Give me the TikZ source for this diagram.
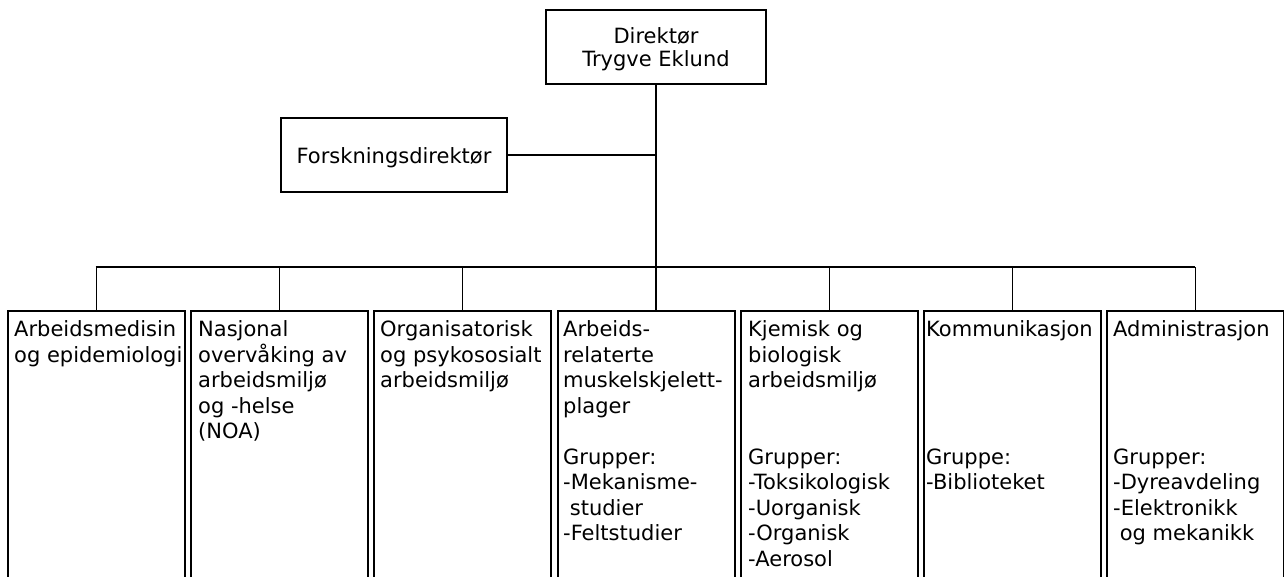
\documentclass[tikz,border=0pt]{standalone}
\usepackage{fontspec}
\setmainfont{DejaVu Sans}
\begin{document}
\begin{tikzpicture}[x=1pt,y=-1pt,
  unit/.style={draw,line width=1.6pt,inner sep=0pt,minimum width=177pt,minimum height=290pt,anchor=north west},
  unittext/.style={anchor=north west,align=left,inner sep=0pt,font=\fontsize{21}{25.5}\selectfont,execute at begin node=\strut},
  headbox/.style={draw,line width=1.6pt,inner sep=0pt},
  headtext/.style={align=center,inner sep=0pt,font=\fontsize{21}{23.5}\selectfont},
  conn/.style={line width=1.3pt}]
\useasboundingbox (0,0) rectangle (1284,576);
\clip (-2,-2) rectangle (1286,578);
% head boxes
\node[headbox,minimum width=220pt,minimum height=74pt] (dir) at (656,47) {};
\node[headtext,anchor=north,execute at begin node=\strut] (dirtext) at (656,27.2) {Direktør\\Trygve Eklund};
\node[headbox,minimum width=226pt,minimum height=74pt] (fd) at (394,155) {};
\node[headtext,anchor=base] (fdtext) at (394,163.5) {Forskningsdirektør};
% unit boxes
\node[unit] (b1) at (7,310) {};
\node[unit] (b2) at (190,310) {};
\node[unit] (b3) at (373,310) {};
\node[unit] (b4) at (557,310) {};
\node[unit] (b5) at (740,310) {};
\node[unit] (b6) at (923,310) {};
\node[unit] (b7) at (1106,310) {};
\node[unittext] (t1) at (14,320.7) {Arbeidsmedisin\\og epidemiologi};
\node[unittext] (t2) at (198,320.7) {Nasjonal\\overvåking av\\arbeidsmiljø\\og -helse\\(NOA)};
\node[unittext] (t3) at (380,320.7) {Organisatorisk\\og psykososialt\\arbeidsmiljø};
\node[unittext] (t4) at (563,320.7) {Arbeids-\\relaterte\\muskelskjelett-\\plager\\~\\Grupper:\\-Mekanisme-\\~studier\\-Feltstudier};
\node[unittext] (t5) at (748,320.7) {Kjemisk og\\biologisk\\arbeidsmiljø\\~\\~\\Grupper:\\-Toksikologisk\\-Uorganisk\\-Organisk\\-Aerosol};
\node[unittext] (t6) at (926,320.7) {Kommunikasjon\\~\\~\\~\\~\\Gruppe:\\-Biblioteket};
\node[unittext] (t7) at (1113,320.7) {Administrasjon\\~\\~\\~\\~\\Grupper:\\-Dyreavdeling\\-Elektronikk\\~og mekanikk};
% connectors
\coordinate (barL) at (95.5,267);
\coordinate (barR) at (1194.5,267);
\draw[conn] (dir.south) -- (dir.south |- b4.north);
\draw[conn] (fd.east) -- (fd.east -| dir.south);
\draw[conn] (barL) -- (barR);
\foreach \b in {b1,b2,b3,b5,b6,b7}{
  \draw[conn] (\b.north) -- (\b.north |- barL);
}
\end{tikzpicture}
\end{document}
